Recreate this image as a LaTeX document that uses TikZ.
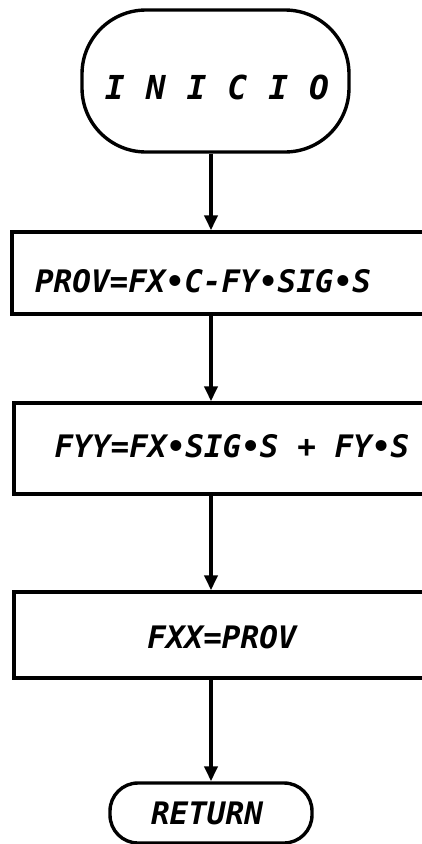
\documentclass[tikz,border=0pt]{standalone}
\usepackage{fontspec}
\setmonofont{DejaVu Sans Mono}
\usetikzlibrary{arrows.meta}
\begin{document}
\begin{tikzpicture}[x=1pt,y=-1pt,
  line width=3.4pt,
  flowbox/.style={draw, rectangle, inner sep=0pt, line width=3.4pt},
  termbox/.style={draw, rectangle, inner sep=0pt, line width=3.4pt},
  lbl/.style={font=\fontsize{31}{31}\selectfont\ttfamily\bfseries\itshape, inner sep=0pt},
  arr/.style={-{Triangle[length=15pt,width=13pt]}, line width=3.8pt}]
\useasboundingbox (0,0) rectangle (422,844);
\fill[white] (0,0) rectangle (422,844);
\clip (0,0) rectangle (422,844);

% vertical spine of the flow
\coordinate (spine) at (211,0);

% terminals and process boxes
\node[termbox, rounded corners=64pt, minimum width=267pt, minimum height=142pt] (start) at (215.5,81) {};
\node[flowbox, minimum width=420pt, minimum height=82pt] (b1) at (222,273) {};
\node[flowbox, minimum width=418pt, minimum height=91pt] (b2) at (223,448.5) {};
\node[flowbox, minimum width=418pt, minimum height=86pt] (b3) at (223,635) {};
\node[termbox, rounded corners=28pt, minimum width=202pt, minimum height=60pt] (stop) at (211,813) {};

% labels
\node[lbl, font=\fontsize{33}{33}\selectfont\ttfamily\bfseries\itshape] (tstart) at (217,87)
  {I\hspace{21pt}N\hspace{21pt}I\hspace{21pt}C\hspace{21pt}I\hspace{21pt}O};
\node[lbl] (t1) at (203,281) {PROV=FX•C-FY•SIG•S};
\node[lbl] (t2) at (232,446) {FYY=FX•SIG•S + FY•S};
\node[lbl] (t3) at (222,637) {FXX=PROV};
\node[lbl] (tstop) at (207,813) {RETURN};

% connectors
\draw[arr] (spine |- start.south) -- (spine |- b1.north);
\draw[arr] (spine |- b1.south) -- (spine |- b2.north);
\draw[arr] (spine |- b2.south) -- (spine |- b3.north);
\draw[arr] (spine |- b3.south) -- (spine |- stop.north);
\end{tikzpicture}
\end{document}
